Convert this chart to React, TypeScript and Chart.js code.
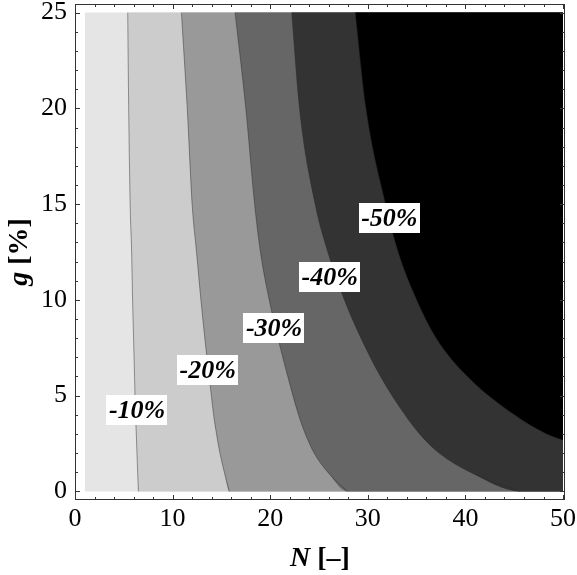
import React, { useEffect, useRef } from 'react';
import { Chart, registerables } from 'chart.js';

Chart.register(...registerables);

// Axis ticks
const xTicks = [0, 10, 20, 30, 40, 50];
const yTicks = [0, 5, 10, 15, 20, 25];
const xMinorStep = 2;
const yMinorStep = 1;

// Data domain
const nRange = [1, 50];
const gRange = [0, 25];

// Contour levels
const levelNames = ['-10%', '-20%', '-30%', '-40%', '-50%'];
const regionColors = ['#e5e5e5', '#cccccc', '#999999', '#666666', '#333333', '#000000'];

// Contour lines: N values at g values
const g10 = [25, 20, 15, 12.5, 10, 8, 6, 4, 3, 2, 1, 0];
const n10 = [5.4, 5.5, 5.65, 5.8, 5.9, 6.0, 6.1, 6.2, 6.28, 6.35, 6.42, 6.5];
const g20 = [25, 20, 15, 12.5, 10, 8, 6, 4, 3, 2, 1, 0];
const n20 = [10.9, 11.5, 12.0, 12.45, 12.9, 13.3, 13.75, 14.2, 14.5, 14.85, 15.3, 15.8];
const g30 = [25, 20, 15, 12.5, 10, 8, 6, 4, 3, 2, 1, 0];
const n30 = [16.4, 17.5, 18.4, 19.0, 19.9, 20.8, 21.8, 22.9, 23.6, 24.5, 25.9, 27.9];
const g40 = [25, 20, 15, 12.5, 10, 8, 6, 4, 3, 2, 1, 0];
const n40 = [22.2, 23.0, 24.6, 25.9, 27.6, 29.3, 31.3, 33.8, 35.3, 37.3, 40.5, 45.6];
const g50 = [25, 20, 15, 12.5, 10, 8, 6, 4, 3, 2.67];
const n50 = [28.7, 29.8, 31.8, 33.1, 35.0, 37.0, 40.2, 45.0, 48.3, 50];

// Contour label anchors (data coords)
const labelN = [6.36, 13.6, 20.4, 26.1, 32.2];
const labelG = [4.24, 6.33, 8.52, 11.19, 14.28];

const contourG = [g10, g20, g30, g40, g50];
const contourN = [n10, n20, n30, n40, n50];

const SERIF = '"Liberation Serif", "Times New Roman", serif';

function curvePoints(k: number) {
  return contourG[k].map((g, i) => ({ x: contourN[k][i], y: g }));
}

function regionPoints(k: number) {
  const pts = curvePoints(k);
  const last = pts[pts.length - 1];
  if (last.y <= gRange[0] && last.x < nRange[1]) pts.push({ x: nRange[1], y: gRange[0] });
  return pts;
}

const framePlugin = {
  id: 'frameTicks',
  afterDraw(chart: any) {
    const ctx = chart.ctx;
    const { left, right, top, bottom } = chart.chartArea;
    const xs = chart.scales.x;
    const ys = chart.scales.y;
    ctx.save();
    ctx.strokeStyle = '#333';
    ctx.lineWidth = 1;
    ctx.strokeRect(left + 0.5, top + 0.5, right - left - 1, bottom - top - 1);
    ctx.beginPath();
    const x0 = xTicks[0], x1 = xTicks[xTicks.length - 1];
    for (let v = x0; v <= x1 + 1e-9; v += xMinorStep) {
      const major = xTicks.some((t) => Math.abs(t - v) < 1e-9);
      const len = major ? 5 : 3;
      const px = Math.round(xs.getPixelForValue(v)) + 0.5;
      ctx.moveTo(px, bottom);
      ctx.lineTo(px, bottom - len);
      ctx.moveTo(px, top);
      ctx.lineTo(px, top + len);
    }
    const y0 = yTicks[0], y1 = yTicks[yTicks.length - 1];
    for (let v = y0; v <= y1 + 1e-9; v += yMinorStep) {
      const major = yTicks.some((t) => Math.abs(t - v) < 1e-9);
      const len = major ? 5 : 3;
      const py = Math.round(ys.getPixelForValue(v)) + 0.5;
      ctx.moveTo(left, py);
      ctx.lineTo(left + len, py);
      ctx.moveTo(right, py);
      ctx.lineTo(right - len, py);
    }
    ctx.stroke();

    // axis titles
    const drawMixed = (parts: [string, string][], cx: number, cy: number) => {
      let total = 0;
      for (const [txt, font] of parts) {
        ctx.font = font;
        total += ctx.measureText(txt).width;
      }
      let x = cx - total / 2;
      ctx.textBaseline = 'middle';
      ctx.textAlign = 'left';
      ctx.fillStyle = '#000';
      for (const [txt, font] of parts) {
        ctx.font = font;
        ctx.fillText(txt, x, cy);
        x += ctx.measureText(txt).width;
      }
    };
    const bi = `italic bold 28px ${SERIF}`;
    const b = `bold 28px ${SERIF}`;
    drawMixed([['N', bi], [' [\u2013]', b]], (left + right) / 2, chart.height - 16);
    ctx.save();
    ctx.translate(20, (top + bottom) / 2);
    ctx.rotate(-Math.PI / 2);
    drawMixed([['g', bi], [' [%]', b]], 0, 0);
    ctx.restore();
    ctx.restore();
  },
};

const labelPlugin = {
  id: 'contourLabels',
  afterDatasetsDraw(chart: any) {
    const ctx = chart.ctx;
    const xs = chart.scales.x;
    const ys = chart.scales.y;
    ctx.save();
    ctx.font = `italic bold 26px ${SERIF}`;
    ctx.textAlign = 'center';
    ctx.textBaseline = 'middle';
    levelNames.forEach((name, i) => {
      const px = xs.getPixelForValue(labelN[i]);
      const py = ys.getPixelForValue(labelG[i]);
      const w = ctx.measureText(name).width + 5;
      const h = 30;
      ctx.fillStyle = '#fff';
      ctx.fillRect(Math.round(px - w / 2), Math.round(py - h / 2), Math.round(w), h);
      ctx.fillStyle = '#000';
      ctx.fillText(name, px, py + 1);
    });
    ctx.restore();
  },
};

export default function App() {
  const canvasRef = useRef<HTMLCanvasElement | null>(null);

  useEffect(() => {
    if (!canvasRef.current) return;
    const datasets: any[] = [];
    // base region
    datasets.push({
      data: [
        { x: nRange[0], y: gRange[0] },
        { x: nRange[1], y: gRange[0] },
      ],
      backgroundColor: regionColors[0],
      borderWidth: 0,
      pointRadius: 0,
      fill: { value: gRange[1] },
      order: 20,
    });
    levelNames.forEach((_, k) => {
      datasets.push({
        data: regionPoints(k),
        backgroundColor: regionColors[k + 1],
        borderWidth: 0,
        pointRadius: 0,
        fill: { value: gRange[1] },
        order: 19 - k,
      });
    });
    levelNames.forEach((_, k) => {
      datasets.push({
        data: curvePoints(k),
        borderColor: 'rgba(40,40,40,0.45)',
        borderWidth: 1,
        pointRadius: 0,
        fill: false,
        order: 1,
      });
    });

    const tickFont = { family: SERIF, size: 26 };
    const chart = new Chart(canvasRef.current, {
      type: 'line',
      data: { datasets },
      plugins: [labelPlugin, framePlugin],
      options: {
        animation: false,
        responsive: false,
        maintainAspectRatio: false,
        events: [],
        layout: { padding: { top: 4, right: 12, left: 0, bottom: 0 } },
        elements: { line: { tension: 0.4, cubicInterpolationMode: 'monotone' } },
        plugins: {
          legend: { display: false },
          tooltip: { enabled: false },
        },
        scales: {
          x: {
            type: 'linear',
            min: 0,
            max: 50.2,
            grid: { display: false, drawTicks: false },
            border: { display: false },
            ticks: { font: tickFont, color: '#000', padding: 4, maxRotation: 0, autoSkip: false },
            afterBuildTicks: (s: any) => {
              s.ticks = xTicks.map((v) => ({ value: v }));
            },
            afterFit: (s: any) => {
              s.height = 75;
              s.paddingLeft = 0;
              s.paddingRight = 0;
            },
          },
          y: {
            type: 'linear',
            min: -0.45,
            max: 25.45,
            grid: { display: false, drawTicks: false },
            border: { display: false },
            ticks: { font: tickFont, color: '#000', padding: 8, autoSkip: false },
            afterBuildTicks: (s: any) => {
              s.ticks = yTicks.map((v) => ({ value: v }));
            },
            afterFit: (s: any) => {
              s.width = 75;
              s.paddingTop = 0;
              s.paddingBottom = 0;
            },
          },
        },
      } as any,
    });
    return () => chart.destroy();
  }, []);

  return (
    <div style={{ position: 'absolute', left: 0, top: 0, width: 577, height: 575, background: '#fff' }}>
      <canvas ref={canvasRef} width={577} height={575} style={{ display: 'block' }} />
    </div>
  );
}
